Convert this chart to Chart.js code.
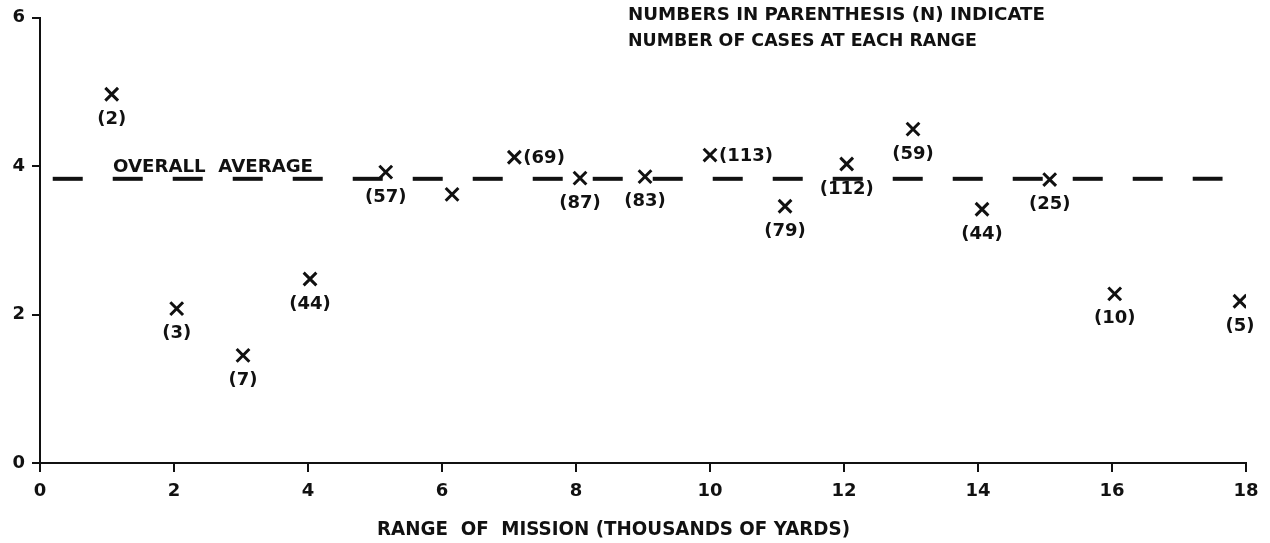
<!DOCTYPE html>
<html>
<head>
<meta charset="utf-8">
<script src="https://cdn.jsdelivr.net/npm/chart.js@4/dist/chart.umd.min.js"></script>
<style>
  html, body { margin: 0; padding: 0; background: #ffffff; }
  #wrap { width: 1270px; height: 543px; }
</style>
</head>
<body>
<div id="wrap"><canvas id="chart" width="1270" height="543"></canvas></div>
<script>
// Mission range (thousands of yards) and the value plotted at each range
const missionRange = [1.07, 2.04, 3.03, 4.03, 5.16, 6.15, 7.08, 8.06, 9.03, 10.0, 11.12, 12.04, 13.03, 14.06, 15.07, 16.04, 17.91];
const rangeValue   = [4.97, 2.08, 1.45, 2.48, 3.92, 3.62, 4.12, 3.84, 3.86, 4.15, 3.46, 4.03, 4.50, 3.42, 3.82, 2.28, 2.18];
// Number of cases at each range (null = not given)
const caseCount    = [2, 3, 7, 44, 57, null, 69, 87, 83, 113, 79, 112, 59, 44, 25, 10, 5];
// Overall average and the range over which its line is drawn
const overallAverage = 3.83;
const averageSpan    = [0.19, 17.65];
// Axis ticks
const xTickValues = [0, 2, 4, 6, 8, 10, 12, 14, 16, 18];
const yTickValues = [0, 2, 4, 6];

const FONT = '"DejaVu Sans", "Liberation Sans", sans-serif';
const INK = '#111111';

// Counts whose label sits to the right of the mark instead of under it
const labelRight = new Set([6, 9]);

function drawFitted(ctx, text, x, y, size, width, align) {
  ctx.save();
  ctx.font = 'bold ' + size + 'px ' + FONT;
  ctx.fillStyle = INK;
  ctx.textBaseline = 'middle';
  ctx.textAlign = align;
  const w = ctx.measureText(text).width;
  const s = width ? width / w : 1;
  ctx.translate(x, y);
  ctx.scale(s, 1);
  ctx.fillText(text, 0, 0);
  ctx.restore();
}

const annotations = {
  id: 'annotations',
  afterDatasetsDraw(chart) {
    const ctx = chart.ctx;
    const xs = chart.scales.x, ys = chart.scales.y;

    // counts in parentheses beside each mark
    const meta = chart.getDatasetMeta(1);
    meta.data.forEach((pt, i) => {
      const n = caseCount[i];
      if (n === null) return;
      const label = '(' + n + ')';
      if (labelRight.has(i)) {
        drawFitted(ctx, label, pt.x + 9, pt.y + 1, 18, null, 'left');
      } else {
        drawFitted(ctx, label, pt.x, pt.y + 25, 18, null, 'center');
      }
    });

    // label over the average line
    const avgY = ys.getPixelForValue(overallAverage);
    drawFitted(ctx, 'OVERALL  AVERAGE', xs.getPixelForValue(1.09), avgY - 11, 18, 200, 'left');

    // note in the upper right
    drawFitted(ctx, 'NUMBERS IN PARENTHESIS (N) INDICATE', 628, 15, 18, 417, 'left');
    drawFitted(ctx, 'NUMBER OF CASES AT EACH RANGE', 628, 41, 18, 349, 'left');

    // x-axis title
    drawFitted(ctx, 'RANGE  OF  MISSION (THOUSANDS OF YARDS)', 377, 530, 19, 473, 'left');
  }
};

new Chart(document.getElementById('chart'), {
  data: {
    datasets: [
      {
        type: 'line',
        label: 'Overall average',
        data: averageSpan.map(x => ({ x: x, y: overallAverage })),
        borderColor: INK,
        borderWidth: 4,
        borderDash: [30, 30],
        pointRadius: 0,
        fill: false,
        order: 2
      },
      {
        type: 'scatter',
        label: 'By range',
        data: missionRange.map((x, i) => ({ x: x, y: rangeValue[i] })),
        pointStyle: 'crossRot',
        pointRadius: 9,
        pointBorderWidth: 3,
        borderColor: INK,
        backgroundColor: INK,
        order: 1
      }
    ]
  },
  options: {
    responsive: false,
    devicePixelRatio: 1,
    animation: false,
    layout: { padding: { top: 15, right: 24, bottom: 0, left: 0 } },
    plugins: {
      legend: { display: false },
      tooltip: { enabled: false }
    },
    scales: {
      x: {
        type: 'linear',
        min: 0,
        max: 18,
        afterBuildTicks: s => { s.ticks = xTickValues.map(v => ({ value: v })); },
        afterFit: s => { s.height = 80; },
        grid: { drawOnChartArea: false, drawTicks: true, tickLength: 9, color: INK, lineWidth: 2 },
        border: { display: true, color: INK, width: 2 },
        ticks: { color: INK, padding: 9, font: { family: FONT, size: 18, weight: 'bold' }, maxRotation: 0 }
      },
      y: {
        type: 'linear',
        min: 0,
        max: 6,
        afterBuildTicks: s => { s.ticks = yTickValues.map(v => ({ value: v })); },
        afterFit: s => { s.width = 40; },
        grid: { drawOnChartArea: false, drawTicks: true, tickLength: 8, color: INK, lineWidth: 2 },
        border: { display: true, color: INK, width: 2 },
        ticks: { color: INK, padding: 7, font: { family: FONT, size: 18, weight: 'bold' } }
      }
    }
  },
  plugins: [annotations]
});
</script>
</body>
</html>
